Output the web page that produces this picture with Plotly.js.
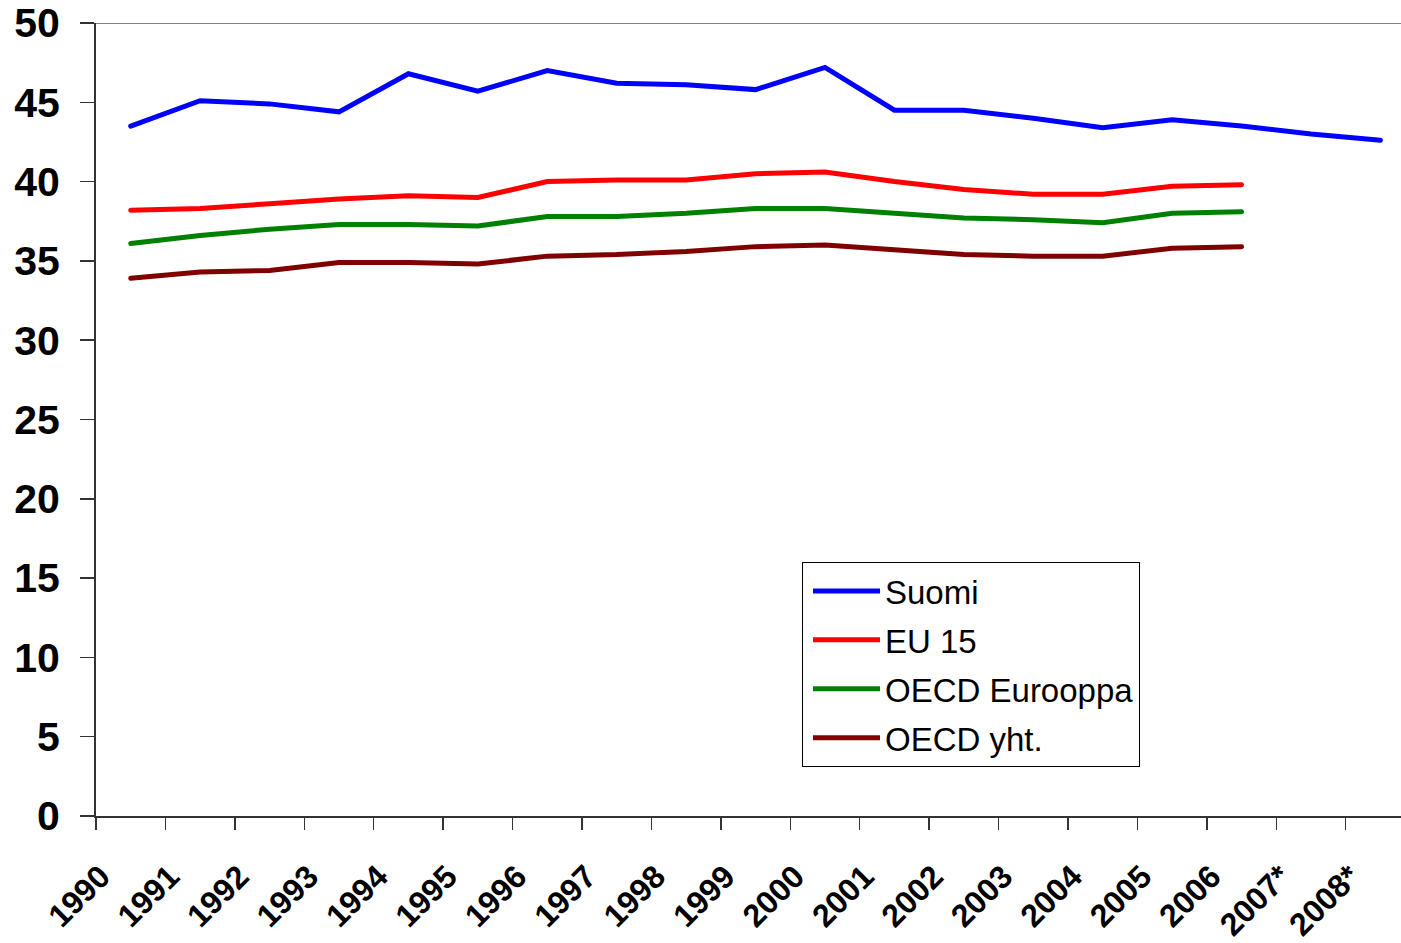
<!DOCTYPE html>
<html><head><meta charset="utf-8">
<script src="https://cdn.plot.ly/plotly-3.0.1.min.js"></script>
<style>
body{margin:0;padding:0;background:#fff}
#chart{width:1401px;height:943px}
.scatterlayer .js-line{stroke-linecap:round}
</style>
</head><body><div id="chart"></div>
<script>
const years = ['1990','1991','1992','1993','1994','1995','1996','1997','1998','1999','2000','2001','2002','2003','2004','2005','2006','2007*','2008*'];
const suomi   = [43.5, 45.1, 44.9, 44.4, 46.8, 45.7, 47.0, 46.2, 46.1, 45.8, 47.2, 44.5, 44.5, 44.0, 43.4, 43.9, 43.5, 43.0, 42.6];
const eu15    = [38.2, 38.3, 38.6, 38.9, 39.1, 39.0, 40.0, 40.1, 40.1, 40.5, 40.6, 40.0, 39.5, 39.2, 39.2, 39.7, 39.8];
const oecdEur = [36.1, 36.6, 37.0, 37.3, 37.3, 37.2, 37.8, 37.8, 38.0, 38.3, 38.3, 38.0, 37.7, 37.6, 37.4, 38.0, 38.1];
const oecdTot = [33.9, 34.3, 34.4, 34.9, 34.9, 34.8, 35.3, 35.4, 35.6, 35.9, 36.0, 35.7, 35.4, 35.3, 35.3, 35.8, 35.9];

const seriesNames = ['Suomi', 'EU 15', 'OECD Eurooppa', 'OECD yht.'];
const seriesValues = [suomi, eu15, oecdEur, oecdTot];
const seriesColors = ['#0000FF', '#FF0000', '#008000', '#800000'];

const font = 'Liberation Sans, Arial, sans-serif';

const traces = seriesValues.map((vals, i) => ({
  type: 'scatter',
  mode: 'lines',
  name: seriesNames[i],
  legendgroup: 'g' + i,
  x: years.slice(0, vals.length),
  y: vals,
  line: {color: seriesColors[i], width: 5}
}));

const layout = {
  width: 1401,
  height: 943,
  margin: {l: 96, r: 0, t: 23, b: 127},
  paper_bgcolor: '#fff',
  plot_bgcolor: '#fff',
  font: {family: font, color: '#000'},
  showlegend: true,
  legend: {
    x: 0.541, y: 0.3203, xanchor: 'left', yanchor: 'top',
    bgcolor: '#fff', bordercolor: '#000', borderwidth: 1,
    font: {family: font, size: 33, color: '#000'},
    indentation: 5,
    itemwidth: 67,
    tracegroupgap: 3
  },
  xaxis: {
    type: 'category',
    categoryorder: 'array',
    categoryarray: years,
    range: [-0.5, 18.296],
    tickson: 'boundaries',
    ticks: 'outside',
    ticklen: 12,
    tickwidth: 1.5,
    tickcolor: '#333',
    showline: true,
    linecolor: '#333',
    linewidth: 2,
    showgrid: false,
    zeroline: false,
    tickangle: -45,
    ticklabelstandoff: 27,
    ticklabelshift: -30,
    tickfont: {family: font, size: 32, color: '#000', weight: 'bold'},
    fixedrange: true
  },
  yaxis: {
    range: [0, 50],
    tick0: 0,
    dtick: 5,
    ticks: 'outside',
    ticklen: 14,
    tickwidth: 1.5,
    tickcolor: '#333',
    showline: true,
    linecolor: '#333',
    linewidth: 2,
    showgrid: false,
    zeroline: false,
    ticklabelstandoff: 12,
    tickfont: {family: font, size: 41, color: '#000', weight: 'bold'},
    fixedrange: true
  },
  shapes: [{
    type: 'line', xref: 'paper', yref: 'y',
    x0: 0, x1: 1, y0: 50, y1: 50,
    line: {color: '#808080', width: 2}
  }]
};

Plotly.newPlot('chart', traces, layout, {displayModeBar: false, staticPlot: true});
</script>
</body></html>
